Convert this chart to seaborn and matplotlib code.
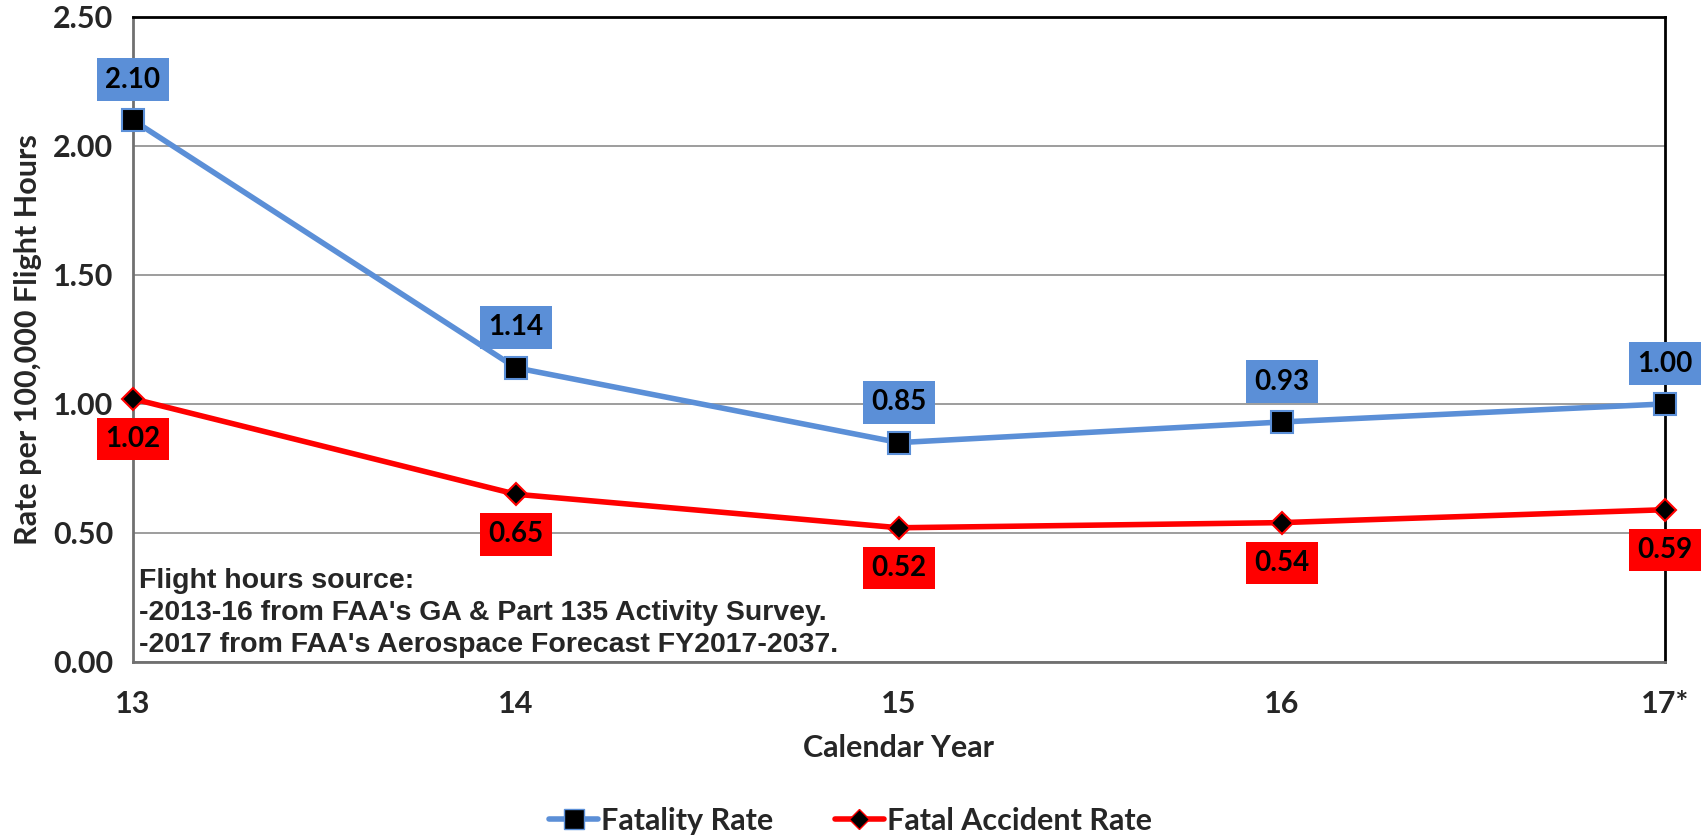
import matplotlib
matplotlib.use('Agg')
import matplotlib.pyplot as plt
from matplotlib.lines import Line2D
import seaborn as sns
import pandas as pd

years = [13, 14, 15, 16, 17]
year_labels = ['13', '14', '15', '16', '17*']
fatality_rate = [2.10, 1.14, 0.85, 0.93, 1.00]
fatal_accident_rate = [1.02, 0.65, 0.52, 0.54, 0.59]
y_ticks = [0, 0.5, 1.0, 1.5, 2.0, 2.5]

BLUE = '#5B8FD7'
RED = '#FF0000'

sns.set_style('white')
plt.rcParams['font.family'] = ['Lato', 'DejaVu Sans']

df = pd.DataFrame({
    'year': years * 2,
    'rate': fatality_rate + fatal_accident_rate,
    'series': ['Fatality Rate'] * 5 + ['Fatal Accident Rate'] * 5,
})

fig = plt.figure(figsize=(17.01, 8.39), dpi=100)
ax = fig.add_axes([0.078, 0.211, 0.901, 0.769])

sns.lineplot(data=df, x='year', y='rate', hue='series', style='series',
             palette={'Fatality Rate': BLUE, 'Fatal Accident Rate': RED},
             markers={'Fatality Rate': 's', 'Fatal Accident Rate': 'D'},
             dashes=False, linewidth=4, markersize=13,
             markerfacecolor='black', ax=ax, legend=False, zorder=3)
for line, ec, ms in zip(ax.lines, [BLUE, RED], [16, 11]):
    line.set_markeredgecolor(ec)
    line.set_markeredgewidth(1.5)
    line.set_markersize(ms)
    line.set_clip_on(False)

# data labels
for x, y in zip(years, fatality_rate):
    ax.annotate('%.2f' % y, (x, y), xytext=(0, 29), textcoords='offset points',
                ha='center', va='center', fontsize=20, fontweight='bold',
                color='black', annotation_clip=False, zorder=5,
                bbox=dict(boxstyle='square,pad=0.3', fc=BLUE, ec='none'))
for x, y in zip(years, fatal_accident_rate):
    ax.annotate('%.2f' % y, (x, y), xytext=(0, -29), textcoords='offset points',
                ha='center', va='center', fontsize=20, fontweight='bold',
                color='black', annotation_clip=False, zorder=5,
                bbox=dict(boxstyle='square,pad=0.3', fc=RED, ec='none'))

ax.set_xlim(13, 17)
ax.set_ylim(0, 2.5)
ax.set_xticks(years)
ax.set_xticklabels(year_labels)
ax.set_yticks(y_ticks)
ax.set_yticklabels(['%.2f' % v for v in y_ticks])
ax.grid(axis='y', color='#8c8c8c', linewidth=1.2)
ax.set_axisbelow(True)
ax.tick_params(axis='both', labelsize=22, length=8, width=1.5, color='#707070',
               direction='out', pad=6)
for lab in ax.get_xticklabels() + ax.get_yticklabels():
    lab.set_fontweight('bold')
ax.tick_params(axis='x', pad=12)

for side in ['top', 'right']:
    ax.spines[side].set_color('black')
    ax.spines[side].set_linewidth(2)
for side in ['left', 'bottom']:
    ax.spines[side].set_color('#707070')
    ax.spines[side].set_linewidth(2)

ax.set_xlabel('Calendar Year', fontsize=22, fontweight='bold', labelpad=12)
ax.set_ylabel('Rate per 100,000 Flight Hours', fontsize=22, fontweight='bold', labelpad=8)

ax.text(0.004, 0.006,
        "Flight hours source:\n-2013-16 from FAA's GA & Part 135 Activity Survey.\n-2017 from FAA's Aerospace Forecast FY2017-2037.",
        transform=ax.transAxes, ha='left', va='bottom', fontsize=20.5,
        fontweight='bold', family=['Liberation Sans', 'DejaVu Sans'],
        linespacing=1.3, zorder=6)

handles = [
    Line2D([], [], color=BLUE, lw=4, marker='s', mfc='black', mec=BLUE, ms=14),
    Line2D([], [], color=RED, lw=4, marker='D', mfc='black', mec=RED, ms=10),
]
fig.legend(handles, ['Fatality Rate', 'Fatal Accident Rate'], loc='center',
           bbox_to_anchor=(0.5, 0.022), ncol=2, frameon=False,
           handlelength=1.6, handletextpad=0.1, columnspacing=2.0,
           prop={'weight': 'bold', 'size': 22})

fig.savefig('out.png', dpi=100)
